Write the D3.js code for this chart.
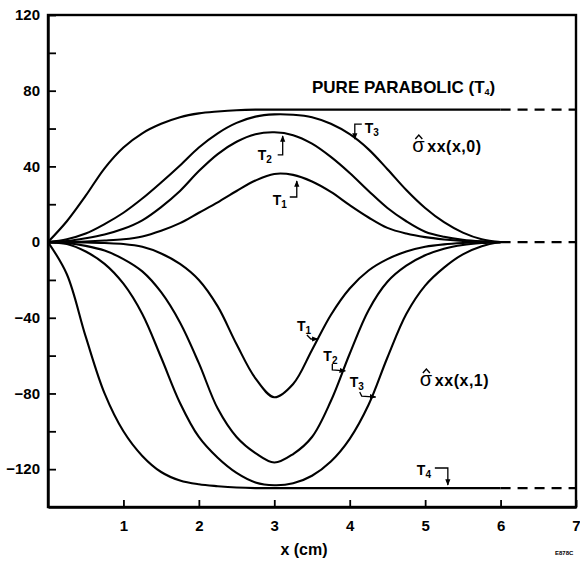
<!DOCTYPE html>
<html><head><meta charset="utf-8">
<script src="https://cdn.jsdelivr.net/npm/d3@7"></script>
<style>
body{margin:0;background:#fff}
text{font-family:"Liberation Sans",Arial,Helvetica,sans-serif;font-weight:bold;fill:#000}
</style>
</head><body>
<svg id="chart" width="580" height="561"></svg>
<script>
// ---- data ----
const xGrid = [0,0.25,0.5,0.75,1,1.25,1.5,1.75,2,2.25,2.5,2.75,3,3.25,3.5,3.75,4,4.25,4.5,4.75,5,5.25,5.5,5.75,6];
// sigma_xx(x,0)
const upperT1 = [0,0,0.3,0.8,1.5,3,6,10,15.5,21,27,32.5,36,35.5,32,26.5,19.5,13,7.5,4.5,2.6,1.4,0.6,0.2,0];
const upperT2 = [0,0.5,2,4,7,11.5,18.5,27,37.5,46.5,53,57,58,56.5,52,45,36.5,27,18,11,5.5,2.8,1.2,0.4,0];
const upperT3 = [0,1.5,4.5,9.5,15.5,23,31.5,40.5,50,57.5,63,66.3,67.5,67.3,66,62.5,57,49,38.5,27.5,18,10.5,5,1.5,0];
const upperT4 = [0,11,24.5,39,50,57.5,62.5,66,68,69,69.7,70,70,70,70,70,70,70,70,70,70,70,70,70,70];
// sigma_xx(x,1)
const lowerT1 = [0,0,-0.2,-0.5,-1,-2.5,-6,-11.5,-20,-34,-54,-72,-82,-75,-57,-38.5,-24.5,-15,-9,-5,-2.5,-1.2,-0.5,-0.1,0];
const lowerT2 = [0,-0.5,-2,-4.5,-9,-15.5,-26.5,-42.5,-64,-88,-103,-111.5,-116.5,-112,-103,-84,-59,-36,-21,-12.5,-7,-3.5,-1.5,-0.5,0];
const lowerT3 = [0,-1,-5,-11.5,-22,-38,-61,-85,-103,-114,-122,-127,-128.5,-127.5,-123.5,-116,-104,-86,-61,-38,-23,-13.5,-6.5,-2.2,0];
const lowerT4 = [0,-17,-50,-80,-100,-113,-121.5,-126,-128,-129,-129.7,-130,-130,-130,-130,-130,-130,-130,-130,-130,-130,-130,-130,-130,-130];
// dashed continuations beyond x = 6
const dashX = [6,7];
const dashLevels = [70,0,-130];
// axes
const xTickValues = [1,2,3,4,5,6,7];
const yTickValues = [-120,-100,-80,-60,-40,-20,0,20,40,60,80,100,120];
const yLabelValues = [-120,-80,-40,0,40,80,120];
const xTitle = "x (cm)";

// ---- drawing ----
const svg = d3.select("#chart");
const x = d3.scaleLinear().domain([0,7]).range([48,576]);
const y = d3.scaleLinear().domain([-140,120]).range([507,15]);

svg.append("defs").append("marker")
  .attr("id","ah").attr("viewBox","0 0 10 10").attr("refX",9).attr("refY",5)
  .attr("markerWidth",5).attr("markerHeight",5).attr("orient","auto")
  .append("path").attr("d","M0,1 L10,5 L0,9 Z").attr("fill","#000");

// frame
svg.append("rect").attr("x",x(0)).attr("y",y(120))
  .attr("width",x(7)-x(0)).attr("height",y(-140)-y(120))
  .attr("fill","none").attr("stroke","#000").attr("stroke-width",2.4);

// axes
const xAxis = d3.axisBottom(x).tickValues(xTickValues).tickSize(-7).tickSizeOuter(0).tickPadding(13)
  .tickFormat(d3.format("d"));
const gx = svg.append("g").attr("transform",`translate(0,${y(-140)})`).call(xAxis);
gx.select(".domain").attr("stroke-width",2.4);
gx.selectAll(".tick line").attr("stroke-width",1.8);
gx.selectAll(".tick text").style("font-size","15px").style("font-family","'Liberation Sans',Arial,sans-serif").style("font-weight","bold");

const yAxis = d3.axisLeft(y).tickValues(yTickValues).tickSize(-8).tickSizeOuter(0).tickPadding(8)
  .tickFormat(d => yLabelValues.includes(d) ? d3.format("d")(d) : "");
const gy = svg.append("g").attr("transform",`translate(${x(0)},0)`).call(yAxis);
gy.select(".domain").attr("stroke-width",2.4);
gy.selectAll(".tick line").attr("stroke-width",1.8);
gy.selectAll(".tick text").style("font-size","15px").style("font-family","'Liberation Sans',Arial,sans-serif").style("font-weight","bold");

svg.append("text").attr("x",(x(3)+x(4))/2 - 8).attr("y",555).attr("text-anchor","middle")
  .style("font-size","16px").text(xTitle);

// curves
const line = d3.line().x(d=>x(d[0])).y(d=>y(d[1])).curve(d3.curveCatmullRom.alpha(0.5));
const series = [upperT1,upperT2,upperT3,upperT4,lowerT1,lowerT2,lowerT3,lowerT4];
series.forEach(s => {
  svg.append("path").datum(xGrid.map((xv,i)=>[xv,s[i]]))
    .attr("d",line).attr("fill","none").attr("stroke","#000").attr("stroke-width",2.1);
});
dashLevels.forEach(v => {
  svg.append("path").datum(dashX.map(xv=>[xv,v]))
    .attr("d",d3.line().x(d=>x(d[0])).y(d=>y(d[1])))
    .attr("fill","none").attr("stroke","#000").attr("stroke-width",2.1).attr("stroke-dasharray","10,7");
});

// annotations (anchor in data coords, arrow offsets in px)
const tLabels = [
  {x:4.20, y:57.6, sub:"3", arrow:[[-3,-9],[-10,-9],[-10,6]]},
  {x:2.78, y:43.4, sub:"2", arrow:[[20,-5],[25,-5],[25,-24]]},
  {x:2.98, y:19.6, sub:"1", arrow:[[17,-8],[24,-8],[24,-24]]},
  {x:3.30, y:-47,  sub:"1", arrow:[[10,4],[14,8],[21,8]]},
  {x:3.65, y:-62.8,sub:"2", arrow:[[9,3],[9,9],[22,10]]},
  {x:4.00, y:-76.6,sub:"3", arrow:[[10,5],[12,9],[26,10]]},
  {x:4.89, y:-123.1,sub:"4", arrow:[[18,-7],[31,-7],[31,10]]}
];
tLabels.forEach(a => {
  const px = x(a.x), py = y(a.y);
  const t = svg.append("text").attr("x",px).attr("y",py).style("font-size","14px");
  t.append("tspan").text("T");
  t.append("tspan").attr("dy",3).style("font-size","10px").text(a.sub);
  svg.append("path").attr("d", d3.line()(a.arrow.map(p=>[px+p[0],py+p[1]])))
    .attr("fill","none").attr("stroke","#000").attr("stroke-width",1.3).attr("marker-end","url(#ah)");
});

// note
const note = svg.append("text").attr("x",x(3.50)).attr("y",y(78.8)).style("font-size","17px");
note.append("tspan").text("PURE PARABOLIC (T");
note.append("tspan").attr("dy",2).style("font-size","9px").text("4");
note.append("tspan").attr("dy",-2).text(")");

// sigma labels (hat drawn as a small path)
function sigma(dx,dy,arg){
  const px = x(dx), py = y(dy);
  svg.append("text").attr("x",px).attr("y",py).style("font-size","20px").style("font-weight","normal").text("σ");
  svg.append("path").attr("d",`M${px+3},${py-13} L${px+6.5},${py-17} L${px+10},${py-13}`)
    .attr("fill","none").attr("stroke","#000").attr("stroke-width",1.4);
  svg.append("text").attr("x",px+15).attr("y",py).style("font-size","16px").style("letter-spacing","0.5px").text("xx(x," + arg + ")");
}
sigma(4.83,47.6,"0");
sigma(4.93,-76.1,"1");

svg.append("text").attr("x",555).attr("y",555).style("font-size","6px").text("E878C");
</script>
</body></html>
